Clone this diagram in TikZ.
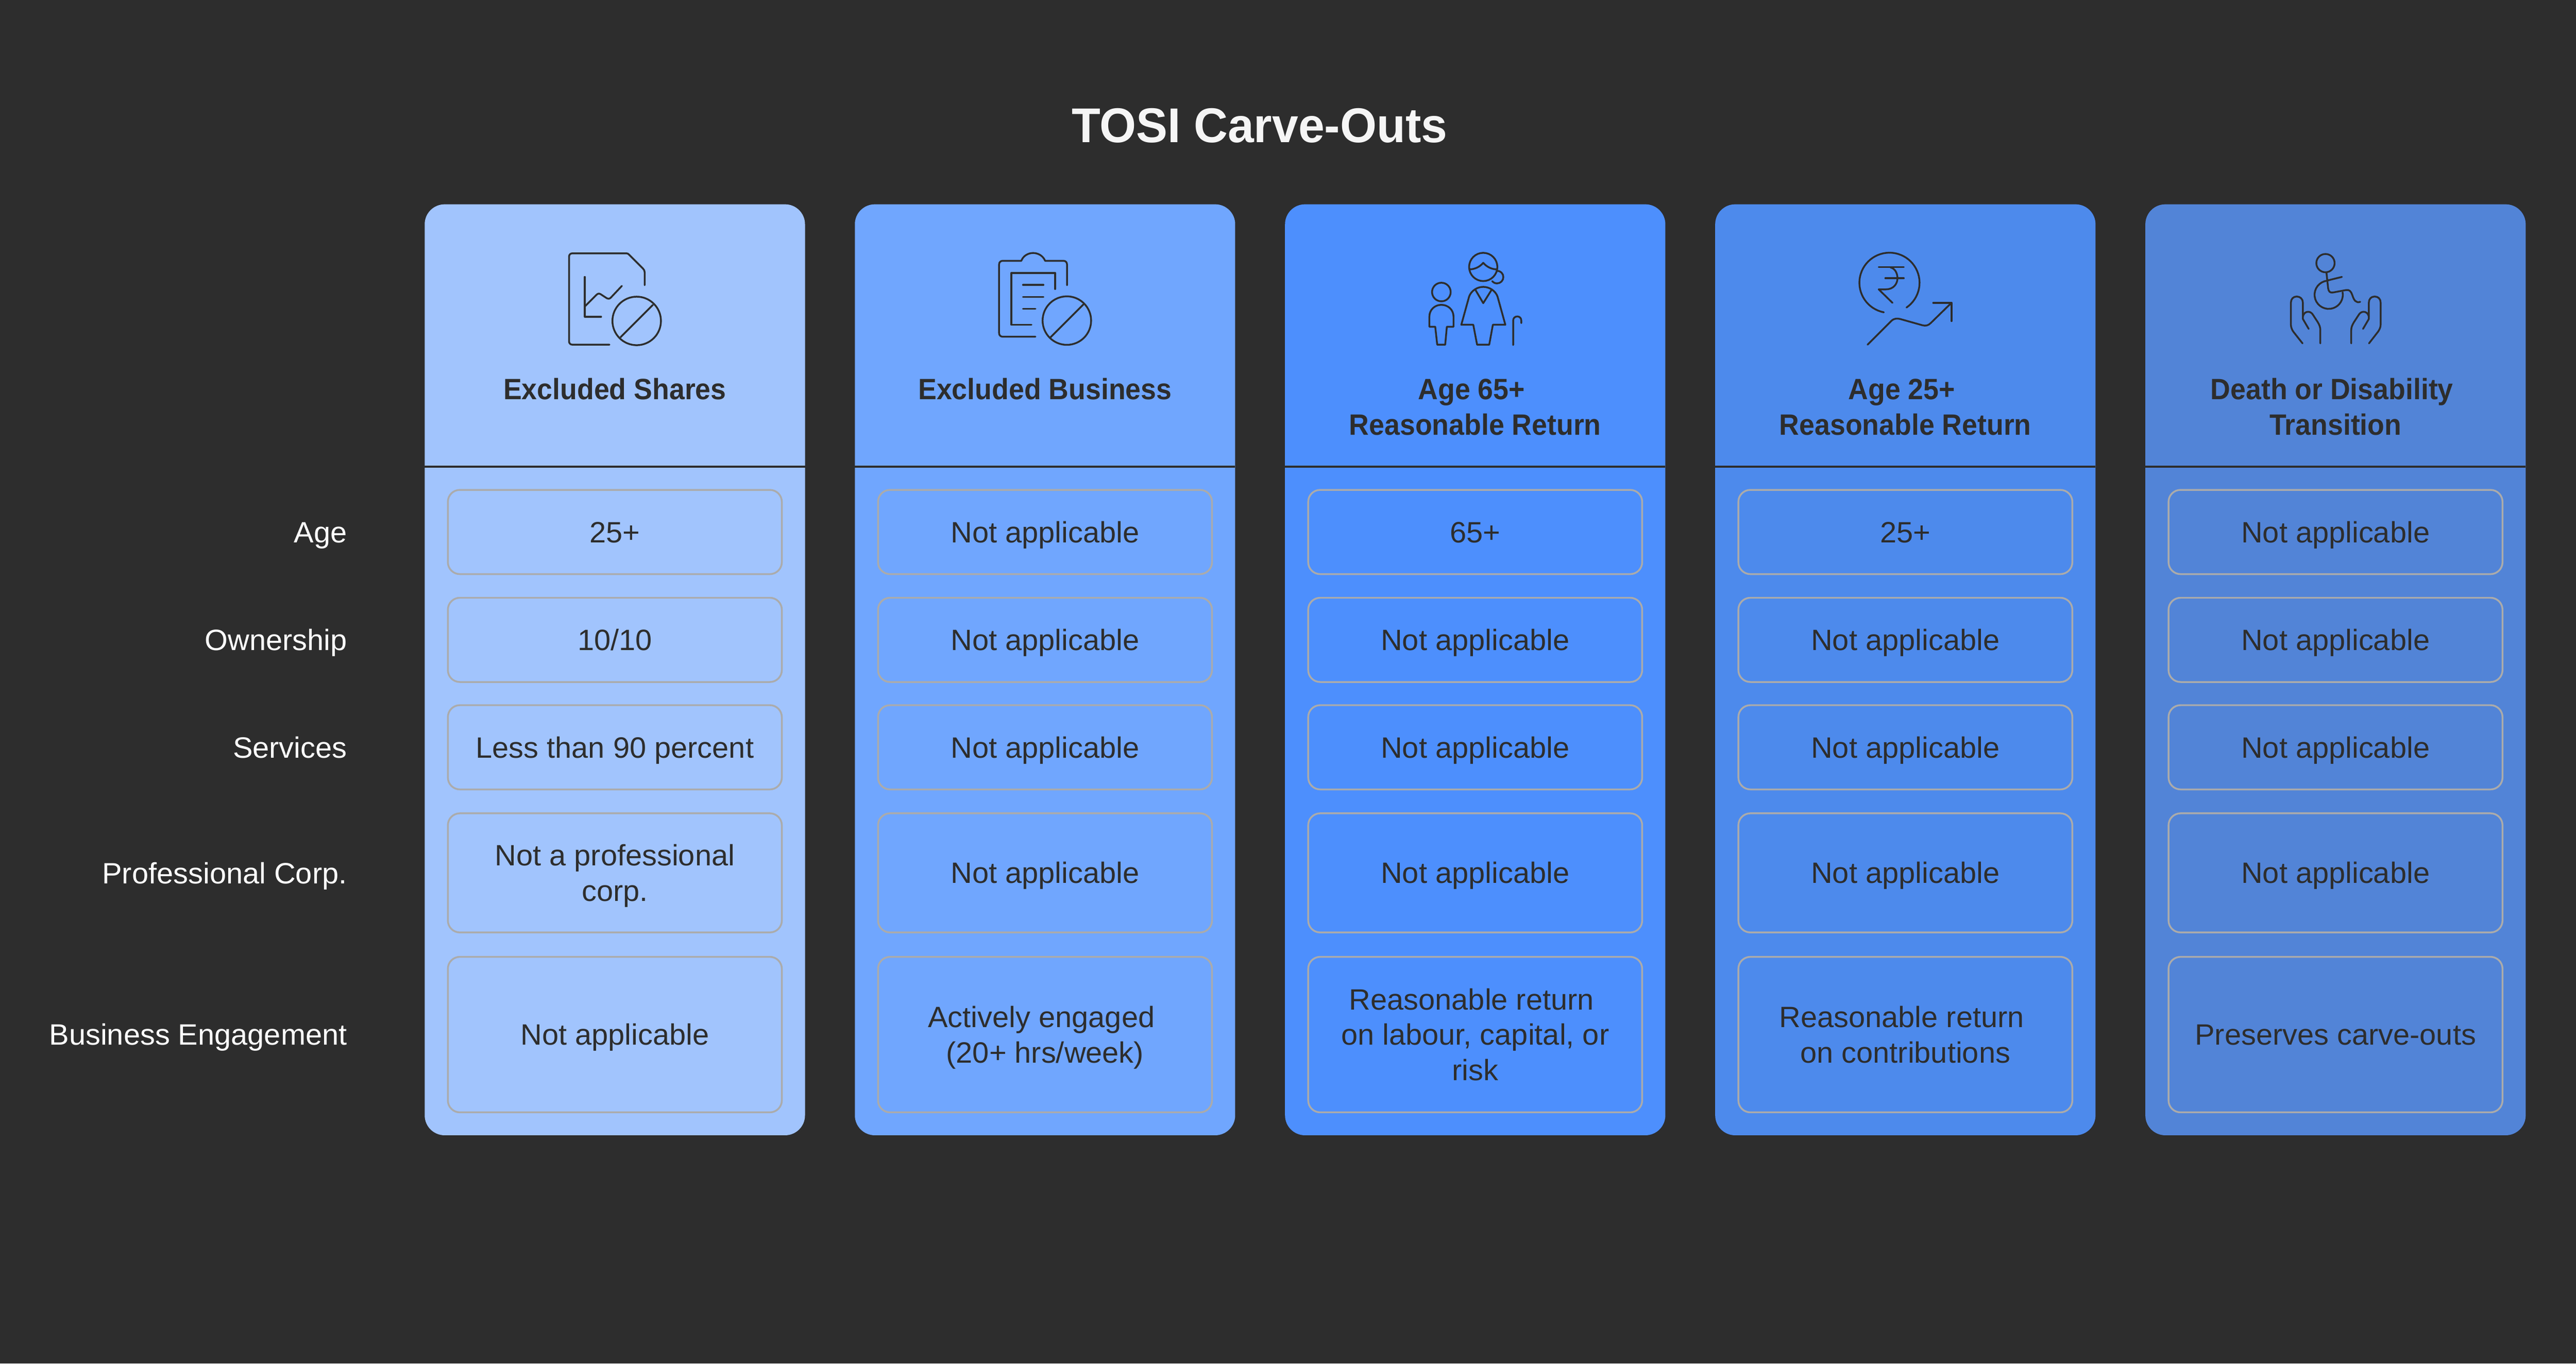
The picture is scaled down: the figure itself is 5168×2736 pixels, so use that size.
\documentclass[tikz,border=0pt]{standalone}
\usepackage{fontspec}
\setmainfont{Liberation Sans}[FakeStretch=1.012]
\newfontfamily\hbf{Liberation Sans Bold}[FakeStretch=0.94]
\newfontfamily\ttlf{Liberation Sans Bold}[FakeStretch=0.963]
\definecolor{bgdark}{HTML}{2D2D2D}
\definecolor{titlecol}{HTML}{F5F5F5}
\definecolor{cardA}{HTML}{A1C4FD}
\definecolor{cardB}{HTML}{70A6FE}
\definecolor{cardC}{HTML}{4D8FFD}
\definecolor{cardD}{HTML}{4D8AEC}
\definecolor{cardE}{HTML}{5284D7}
\definecolor{cellline}{HTML}{ABABAB}
\newcommand{\cstr}{\rule[-3.5pt]{0pt}{17.5pt}}
\newcommand{\tsp}{\hspace*{3.6pt}}
\tikzset{
  x=0.25pt,y=-0.25pt,
  card/.style={minimum width=190.75pt,minimum height=467pt,rounded corners=10pt,inner sep=0pt,outer sep=0pt,draw=none},
  cell/.style={draw=cellline,line width=0.9pt,rounded corners=6pt,minimum width=167.5pt,inner sep=0pt,outer sep=0pt,align=center,
     text=bgdark,font=\fontsize{14.75}{17.75}\selectfont},
  headtxt/.style={anchor=north,align=center,inner sep=0pt,text=bgdark,font=\hbf\fontsize{14.75}{17.75}\selectfont},
  rowlab/.style={anchor=east,inner sep=0pt,text=white,font=\fontsize{14.75}{17.75}\selectfont},
  sep/.style={line width=1pt,draw=bgdark},
  ico/.style={line width=0.9pt,draw=bgdark,line cap=round,line join=round},
}
\newcommand{\cellat}[5]{\node[cell,minimum height=#3*0.25pt] (#1) at (#2,#4) {#5};}
\begin{document}
\begin{tikzpicture}
\fill[bgdark] (0,0) rectangle (5168,2736);
\useasboundingbox (0,0) rectangle (5168,2736);
\node[inner sep=0pt,text=titlecol,font=\ttlf\fontsize{24.5}{28}\selectfont] (title) at (2527,252) {TOSI Carve-Outs};

% cards
\node[card,fill=cardA] (cardone) at (1233.5,1344) {};
\node[card,fill=cardB] (cardtwo) at (2096.5,1344) {};
\node[card,fill=cardC] (cardthree) at (2959.5,1344) {};
\node[card,fill=cardD] (cardfour) at (3822.5,1344) {};
\node[card,fill=cardE] (cardfive) at (4685.5,1344) {};

% dividers
\foreach \c in {cardone,cardtwo,cardthree,cardfour,cardfive}{
  \coordinate (\c L) at (\c.west |- 0,936);
  \coordinate (\c R) at (\c.east |- 0,936);
  \draw[sep] (\c L) -- (\c R);
}

% headers
\node[headtxt] (hone) at (1233.5,745) {\cstr Excluded Shares};
\node[headtxt] (htwo) at (2096.5,745) {\cstr Excluded Business};
\node[headtxt] (hthree) at (2959.5,745) {\cstr Age 65+\tsp\\\cstr Reasonable Return};
\node[headtxt] (hfour) at (3822.5,745) {\cstr Age 25+\tsp\\\cstr Reasonable Return};
\node[headtxt] (hfive) at (4685.5,745) {\cstr Death or Disability\tsp\\\cstr Transition};

% row labels
\node[rowlab] (lage) at (697,1068) {\cstr Age};
\node[rowlab] (lown) at (697,1284) {\cstr Ownership};
\node[rowlab] (lser) at (697,1500) {\cstr Services};
\node[rowlab] (lpro) at (697,1752) {\cstr Professional Corp.};
\node[rowlab] (lbus) at (697,2076) {\cstr Business Engagement};

% cells column 1
\cellat{aone}{1233.5}{169}{1067.5}{\cstr 25+}
\cellat{atwo}{1233.5}{169}{1284}{\cstr 10/10}
\cellat{athree}{1233.5}{169}{1499.5}{\cstr Less than 90 percent}
\cellat{afour}{1233.5}{239}{1751.5}{\cstr Not a professional\\\cstr corp.}
\cellat{afive}{1233.5}{312}{2076}{\cstr Not applicable}
% column 2
\cellat{bone}{2096.5}{169}{1067.5}{\cstr Not applicable}
\cellat{btwo}{2096.5}{169}{1284}{\cstr Not applicable}
\cellat{bthree}{2096.5}{169}{1499.5}{\cstr Not applicable}
\cellat{bfour}{2096.5}{239}{1751.5}{\cstr Not applicable}
\cellat{bfive}{2096.5}{312}{2076}{\cstr Actively engaged\tsp\\\cstr (20+ hrs/week)}
% column 3
\cellat{cone}{2959.5}{169}{1067.5}{\cstr 65+}
\cellat{ctwo}{2959.5}{169}{1284}{\cstr Not applicable}
\cellat{cthree}{2959.5}{169}{1499.5}{\cstr Not applicable}
\cellat{cfour}{2959.5}{239}{1751.5}{\cstr Not applicable}
\cellat{cfive}{2959.5}{312}{2076}{\cstr Reasonable return\tsp\\\cstr on labour, capital, or\tsp\\\cstr risk}
% column 4
\cellat{done}{3822.5}{169}{1067.5}{\cstr 25+}
\cellat{dtwo}{3822.5}{169}{1284}{\cstr Not applicable}
\cellat{dthree}{3822.5}{169}{1499.5}{\cstr Not applicable}
\cellat{dfour}{3822.5}{239}{1751.5}{\cstr Not applicable}
\cellat{dfive}{3822.5}{312}{2076}{\cstr Reasonable return\tsp\\\cstr on contributions}
% column 5
\cellat{eone}{4685.5}{169}{1067.5}{\cstr Not applicable}
\cellat{etwo}{4685.5}{169}{1284}{\cstr Not applicable}
\cellat{ethree}{4685.5}{169}{1499.5}{\cstr Not applicable}
\cellat{efour}{4685.5}{239}{1751.5}{\cstr Not applicable}
\cellat{efive}{4685.5}{312}{2076}{\cstr Preserves carve-outs}

% icon 1
\begin{scope}[shift={(1080,470)},x=0.0833333pt,y=-0.0833333pt,ico]
\draw (428,665) -- (205,665) .. controls (193,665) and (185,657) .. (185,645) -- (185,135) .. controls (185,123) and (193,115) .. (205,115) -- (530,115) .. controls (537,115) and (540,117) .. (545,122) -- (630,207) .. controls (637,214) and (640,220) .. (640,230) -- (640,307);
\draw (280,257) -- (280,497) -- (378,497);
\draw (283,432) -- (350,365) .. controls (358,357) and (365,355) .. (375,361) -- (410,384) .. controls (420,390) and (428,390) .. (436,382) -- (503,311);
\draw (592,522) circle[radius=146];
\draw (495,620) -- (690,425);
\end{scope}
% icon 2
\begin{scope}[shift={(1950,470)},x=0.0833333pt,y=-0.0833333pt,ico]
\draw (382,617) -- (185,617) .. controls (172,617) and (163,608) .. (163,595) -- (163,182) .. controls (163,169) and (172,160) .. (185,160) -- (297,160) .. controls (308,130) and (338,113) .. (368,113) .. controls (398,113) and (428,130) .. (440,160) -- (550,160) .. controls (563,160) and (572,169) .. (572,182) -- (572,307);
\draw (358,545) -- (237,545) -- (237,233) -- (500,233) -- (500,330);
\draw (307,305) -- (430,305);
\draw (307,377) -- (430,377);
\draw (307,449) -- (382,449);
\draw (571,520) circle[radius=146];
\draw (473,620) -- (670,423);
\end{scope}
% icon 3
\begin{scope}[shift={(2820,470)},x=0.0833333pt,y=-0.0833333pt,ico]
\draw (215,348) circle[radius=56];
\draw (143,557) -- (143,495) .. controls (143,455) and (175,425) .. (215,425) .. controls (255,425) and (288,455) .. (288,495) -- (288,557) -- (248,557) -- (238,665) -- (190,665) -- (178,557) -- cycle;
\draw (467,197) circle[radius=85];
\draw (385,212) .. controls (420,210) and (448,195) .. (467,172) .. controls (486,195) and (514,210) .. (548,212);
\draw (550,220) arc[start angle=-90,end angle=140,radius=38];
\draw (335,545) -- (382,375) .. controls (395,340) and (430,317) .. (467,317) .. controls (504,317) and (540,340) .. (553,375) -- (600,545) -- (525,545) -- (503,665) -- (430,665) -- (407,545) -- cycle;
\draw (420,335) -- (467,415) -- (517,335);
\draw (647,667) -- (647,520) .. controls (647,505) and (658,495) .. (672,495) .. controls (686,495) and (696,505) .. (696,520) -- (696,535);
\end{scope}
% icon 4
\begin{scope}[shift={(3700,470)},x=0.0833333pt,y=-0.0833333pt,ico]
\draw (238,470) arc[start angle=100.8,end angle=415.5,radius=181];
\draw (207,198) -- (358,198);
\draw (247,265) -- (358,265);
\draw (278,200) .. controls (303,205) and (320,232) .. (320,265) .. controls (320,300) and (295,332) .. (250,332) -- (207,332) -- (290,413);
\draw (140,665) -- (285,520) .. controls (297,509) and (315,505) .. (335,510) -- (470,548) .. controls (490,553) and (505,550) .. (520,535) -- (645,413);
\draw (535,413) -- (645,413) -- (645,523);
\end{scope}
% icon 5
\begin{scope}[shift={(4570,470)},x=0.0833333pt,y=-0.0833333pt,ico]
\draw (286,174) circle[radius=55];
\draw (292,232) -- (302,325) .. controls (304,345) and (315,354) .. (330,351) -- (410,336) .. controls (430,332) and (440,345) .. (447,365) .. controls (458,400) and (470,415) .. (495,407);
\draw (385,257) -- (300,278);
\draw (295,280) arc[start angle=263,end angle=-10,radius=85];
\draw (148,657) -- (95,590) .. controls (85,578) and (78,560) .. (78,545) -- (78,412) .. controls (78,390) and (92,375) .. (113,375) .. controls (134,375) and (150,390) .. (150,412) -- (150,510) -- (185,570);
\draw (150,495) .. controls (155,475) and (168,467) .. (182,467) .. controls (195,467) and (205,475) .. (212,487) -- (240,530) .. controls (250,547) and (255,560) .. (255,578) -- (255,657);
\draw (548,657) -- (600,590) .. controls (610,578) and (618,560) .. (618,545) -- (618,412) .. controls (618,390) and (604,375) .. (582,375) .. controls (561,375) and (547,390) .. (547,412) -- (547,510) -- (512,570);
\draw (547,495) .. controls (542,475) and (529,467) .. (515,467) .. controls (502,467) and (492,475) .. (485,487) -- (457,530) .. controls (447,547) and (441,560) .. (441,578) -- (441,657);
\end{scope}
\end{tikzpicture}
\end{document}
